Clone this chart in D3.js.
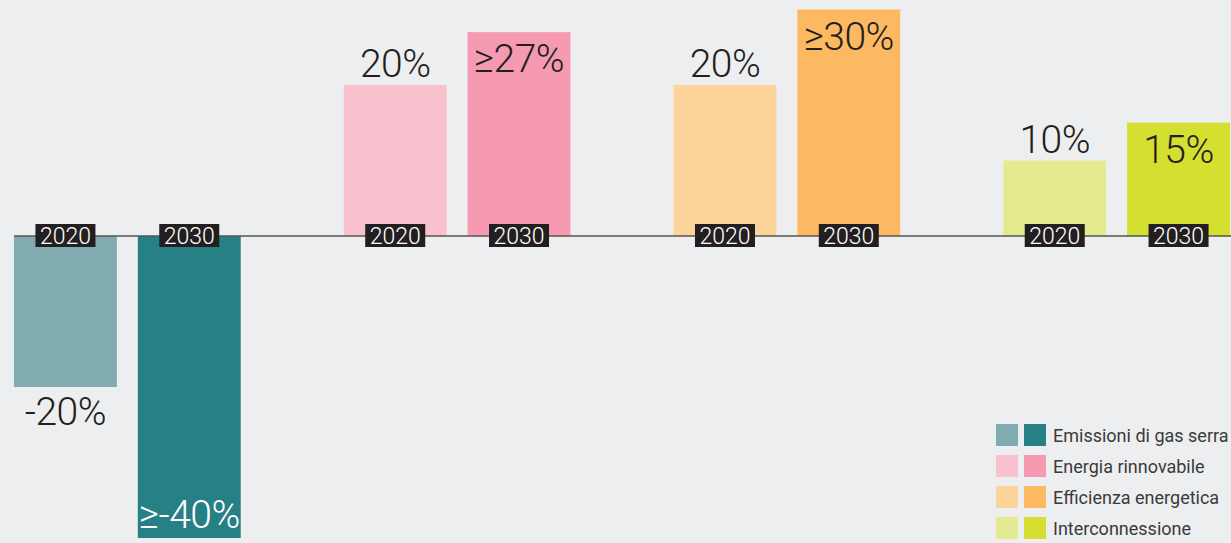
<!DOCTYPE html>
<html>
<head>
<meta charset="utf-8">
<script src="https://cdn.jsdelivr.net/npm/d3@7"></script>
<style>
  body { margin: 0; background: #edeef0; }
  svg { display: block; }
</style>
</head>
<body>
<script>
// categories and values
const groups = ['Emissioni di gas serra', 'Energia rinnovabile', 'Efficienza energetica', 'Interconnessione']
const years = ['2020', '2030']
const values2020 = [-20, 20, 20, 10]
const values2030 = [-40, 27, 30, 15]
const labels2020 = ['-20%', '20%', '20%', '10%']
const labels2030 = ['≥-40%', '≥27%', '≥30%', '15%']
const colors2020 = ['#80abb0', '#f8c1cd', '#fdd39c', '#e4ea8f']
const colors2030 = ['#288087', '#f59ab0', '#fdb961', '#d5df2f']

const width = 1231
const height = 543

const svg = d3.select('body').append('svg')
  .attr('width', width)
  .attr('height', height)

// scales
const x0 = d3.scaleBand().domain(groups).range([14, 1230]).paddingInner(0.3125).paddingOuter(0)
const x1 = d3.scaleBand().domain(years).range([0, x0.bandwidth()]).paddingInner(0.169).paddingOuter(0)
const y = d3.scaleLinear().domain([-40, 30]).range([538, 9.5])

// flatten data
let data = []
groups.forEach(function (g, i) {
  data.push({ group: g, year: '2020', value: values2020[i], label: labels2020[i], color: colors2020[i] })
  data.push({ group: g, year: '2030', value: values2030[i], label: labels2030[i], color: colors2030[i] })
})

const font = "'Helvetica Neue', Roboto, 'Liberation Sans', Arial, sans-serif"

// bars
svg.selectAll('.bar')
  .data(data)
  .enter()
  .append('rect')
  .attr('class', 'bar')
  .attr('x', d => x0(d.group) + x1(d.year))
  .attr('width', x1.bandwidth())
  .attr('y', d => y(Math.max(0, d.value)))
  .attr('height', d => Math.abs(y(d.value) - y(0)))
  .attr('fill', d => d.color)

// baseline
svg.append('line')
  .attr('x1', 14)
  .attr('x2', width)
  .attr('y1', y(0))
  .attr('y2', y(0))
  .attr('stroke', '#555')
  .attr('stroke-width', 1.5)

// value labels: 2020 outside the bar, 2030 inside
svg.selectAll('.val')
  .data(data)
  .enter()
  .append('text')
  .attr('class', 'val')
  .attr('x', d => x0(d.group) + x1(d.year) + x1.bandwidth() / 2)
  .attr('y', function (d) {
    if (d.year === '2020') return d.value >= 0 ? y(d.value) - 8 : y(d.value) + 38
    return d.value >= 0 ? y(d.value) + 40 : y(d.value) - 10
  })
  .attr('text-anchor', 'middle')
  .attr('font-family', font)
  .attr('font-weight', 300)
  .attr('font-size', 39)
  .attr('letter-spacing', -0.5)
  .attr('fill', d => (d.year === '2030' && d.value < 0) ? '#fff' : '#231f20')
  .text(d => d.label)

// year tags on the baseline
const tags = svg.selectAll('.tag')
  .data(data)
  .enter()
  .append('g')
  .attr('class', 'tag')
  .attr('transform', d => 'translate(' + (x0(d.group) + x1(d.year) + x1.bandwidth() / 2) + ',' + y(0) + ')')

tags.append('rect')
  .attr('x', -30)
  .attr('y', -12)
  .attr('width', 60)
  .attr('height', 23)
  .attr('fill', '#231f20')

tags.append('text')
  .attr('y', 8)
  .attr('text-anchor', 'middle')
  .attr('font-family', font)
  .attr('font-weight', 300)
  .attr('font-size', 23)
  .attr('fill', '#fff')
  .text(d => d.year)

// legend
const legend = svg.selectAll('.legend')
  .data(groups)
  .enter()
  .append('g')
  .attr('class', 'legend')
  .attr('transform', (d, i) => 'translate(996,' + (424 + i * 31) + ')')

legend.append('rect')
  .attr('width', 22).attr('height', 22)
  .attr('fill', (d, i) => colors2020[i])
legend.append('rect')
  .attr('x', 28)
  .attr('width', 22).attr('height', 22)
  .attr('fill', (d, i) => colors2030[i])
legend.append('text')
  .attr('x', 57)
  .attr('y', 18)
  .attr('font-family', font)
  .attr('font-size', 18)
  .attr('fill', '#3a3a3a')
  .text(d => d)
</script>
</body>
</html>
